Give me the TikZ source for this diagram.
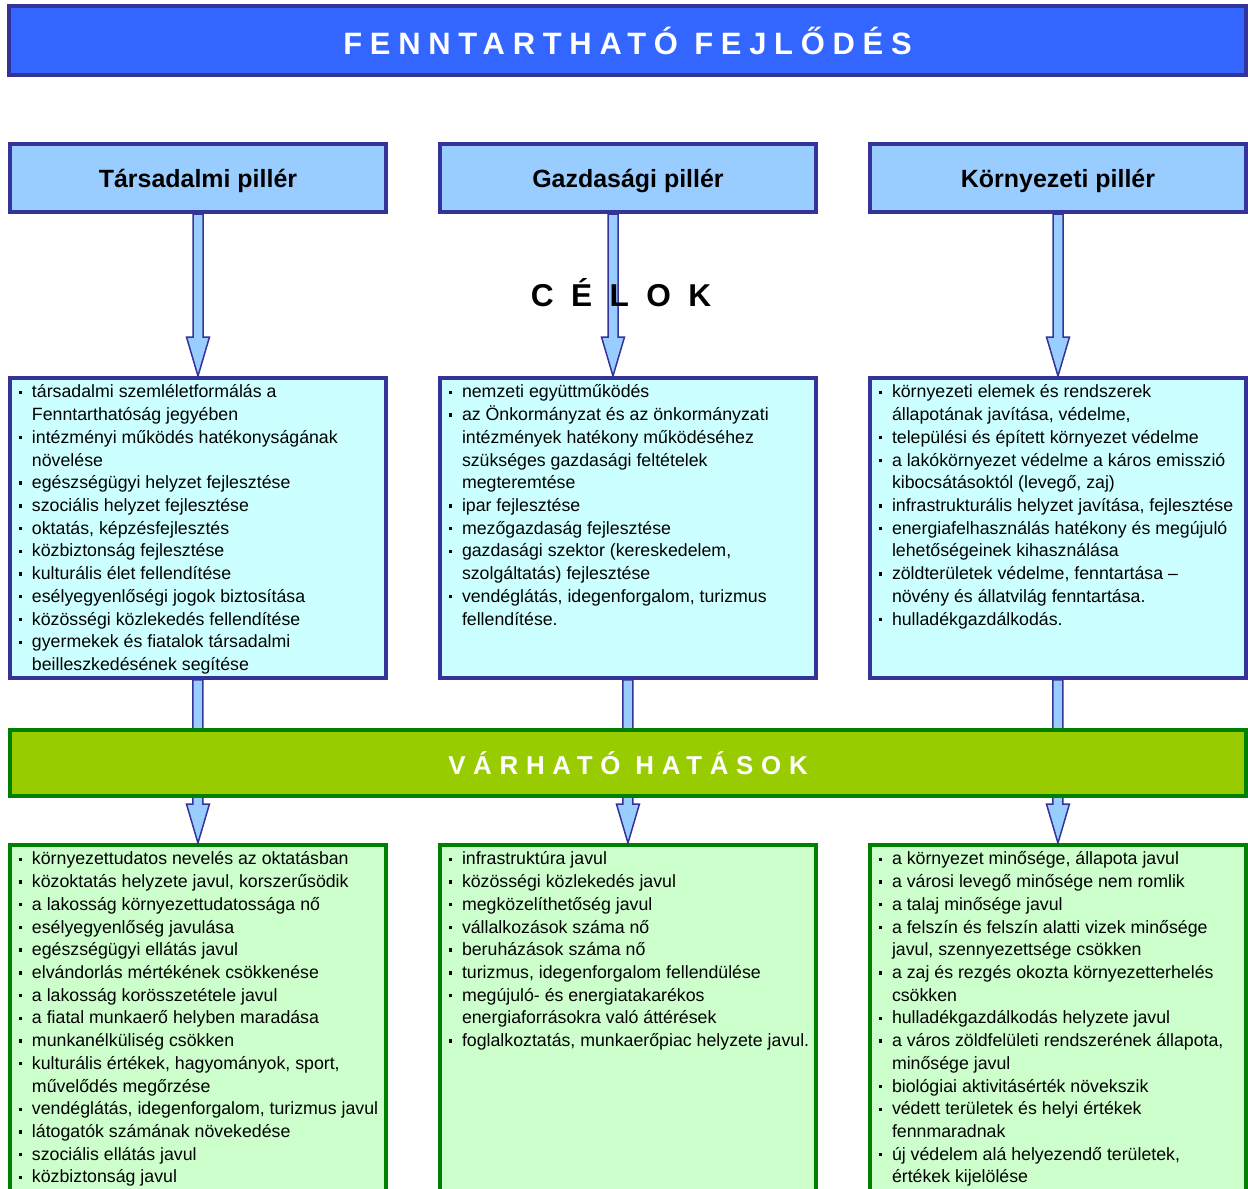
\documentclass[tikz,border=0pt]{standalone}
\usepackage{fontspec}
\setmainfont{Liberation Sans}
\usepackage{array}
\usetikzlibrary{calc}
\definecolor{tfblue}{RGB}{51,102,255}
\definecolor{tfnavy}{RGB}{51,51,153}
\definecolor{tfsky}{RGB}{153,204,255}
\definecolor{tfcyan}{RGB}{204,255,255}
\definecolor{tflime}{RGB}{153,204,0}
\definecolor{tfgreen}{RGB}{0,128,0}
\definecolor{tfmint}{RGB}{204,255,204}
\newcommand{\bul}{\rule[0.08cm]{0.066cm}{0.066cm}}

\begin{document}
\begin{tikzpicture}[x=0.02cm,y=-0.02cm,
  pillar/.style={draw=tfnavy, fill=tfsky, line width=0.08cm, minimum width=7.52cm, minimum height=1.36cm, inner sep=0pt, text depth=0cm, font=\bfseries\fontsize{14.2}{17}\selectfont},
  celbox/.style={draw=tfnavy, fill=tfcyan, line width=0.08cm, anchor=north west, inner xsep=0.18cm, inner ysep=0.08cm, font=\fontsize{10.1}{12.93}\selectfont},
  hatbox/.style={celbox, draw=tfgreen, fill=tfmint},
  blockarr/.style={draw=tfnavy, fill=tfsky, line width=0.03cm, line join=miter}]
  \useasboundingbox (0,0) rectangle (1248,1188);
  \clip (0,0) rectangle (1248,1188);

  %% Title
  \node[draw=tfnavy, fill=tfblue, line width=0.08cm, minimum width=24.74cm, minimum height=1.38cm, inner sep=0pt, text=white,
    font=\bfseries\fontsize{17.6}{20}\selectfont\addfontfeature{LetterSpace=25}] (title) at (627.5,40.5) {FENNTARTHATÓ FEJLŐDÉS};

  %% Pillars
  \node[pillar] (tp) at (198,178) {Társadalmi pillér};
  \node[pillar] (gp) at (628,178) {Gazdasági pillér};
  \node[pillar] (kp) at (1058,178) {Környezeti pillér};
  \coordinate (ga) at ($(gp.south)+(-15,0)$);

  %% Goals
  \node[celbox] (tl) at (8,376) {\parbox[t][5.84cm][t]{7.16cm}{\begin{tabular}{@{}p{0.26cm}@{}l@{}}
    \bul & társadalmi szemléletformálás a \\
         & Fenntarthatóság jegyében \\
    \bul & intézményi működés hatékonyságának \\
         & növelése \\
    \bul & egészségügyi helyzet fejlesztése \\
    \bul & szociális helyzet fejlesztése \\
    \bul & oktatás, képzésfejlesztés \\
    \bul & közbiztonság fejlesztése \\
    \bul & kulturális élet fellendítése \\
    \bul & esélyegyenlőségi jogok biztosítása \\
    \bul & közösségi közlekedés fellendítése \\
    \bul & gyermekek és fiatalok társadalmi \\
         & beilleszkedésének segítése \\
  \end{tabular}}};
  \node[celbox] (gl) at (438,376) {\parbox[t][5.84cm][t]{7.16cm}{\begin{tabular}{@{}p{0.26cm}@{}l@{}}
    \bul & nemzeti együttműködés \\
    \bul & az Önkormányzat és az önkormányzati \\
         & intézmények hatékony működéséhez \\
         & szükséges gazdasági feltételek \\
         & megteremtése \\
    \bul & ipar fejlesztése \\
    \bul & mezőgazdaság fejlesztése \\
    \bul & gazdasági szektor (kereskedelem, \\
         & szolgáltatás) fejlesztése \\
    \bul & vendéglátás, idegenforgalom, turizmus \\
         & fellendítése. \\
  \end{tabular}}};
  \node[celbox] (kl) at (868,376) {\parbox[t][5.84cm][t]{7.16cm}{\begin{tabular}{@{}p{0.26cm}@{}l@{}}
    \bul & környezeti elemek és rendszerek \\
         & állapotának javítása, védelme, \\
    \bul & települési és épített környezet védelme \\
    \bul & a lakókörnyezet védelme a káros emisszió \\
         & kibocsátásoktól (levegő, zaj) \\
    \bul & infrastrukturális helyzet javítása, fejlesztése \\
    \bul & energiafelhasználás hatékony és megújuló \\
         & lehetőségeinek kihasználása \\
    \bul & zöldterületek védelme, fenntartása – \\
         & növény és állatvilág fenntartása. \\
    \bul & hulladékgazdálkodás. \\
  \end{tabular}}};

  %% Expected effects
  \node[hatbox] (tb) at (8,843) {\parbox[t][7.6cm][t]{7.16cm}{\begin{tabular}{@{}p{0.26cm}@{}l@{}}
    \bul & környezettudatos nevelés az oktatásban \\
    \bul & közoktatás helyzete javul, korszerűsödik \\
    \bul & a lakosság környezettudatossága nő \\
    \bul & esélyegyenlőség javulása \\
    \bul & egészségügyi ellátás javul \\
    \bul & elvándorlás mértékének csökkenése \\
    \bul & a lakosság korösszetétele javul \\
    \bul & a fiatal munkaerő helyben maradása \\
    \bul & munkanélküliség csökken \\
    \bul & kulturális értékek, hagyományok, sport, \\
         & művelődés megőrzése \\
    \bul & vendéglátás, idegenforgalom, turizmus javul \\
    \bul & látogatók számának növekedése \\
    \bul & szociális ellátás javul \\
    \bul & közbiztonság javul \\
  \end{tabular}}};
  \node[hatbox] (gb) at (438,843) {\parbox[t][7.6cm][t]{7.16cm}{\begin{tabular}{@{}p{0.26cm}@{}l@{}}
    \bul & infrastruktúra javul \\
    \bul & közösségi közlekedés javul \\
    \bul & megközelíthetőség javul \\
    \bul & vállalkozások száma nő \\
    \bul & beruházások száma nő \\
    \bul & turizmus, idegenforgalom fellendülése \\
    \bul & megújuló- és energiatakarékos \\
         & energiaforrásokra való áttérések \\
    \bul & foglalkoztatás, munkaerőpiac helyzete javul. \\
  \end{tabular}}};
  \node[hatbox] (kb) at (868,843) {\parbox[t][7.6cm][t]{7.16cm}{\begin{tabular}{@{}p{0.26cm}@{}l@{}}
    \bul & a környezet minősége, állapota javul \\
    \bul & a városi levegő minősége nem romlik \\
    \bul & a talaj minősége javul \\
    \bul & a felszín és felszín alatti vizek minősége \\
         & javul, szennyezettsége csökken \\
    \bul & a zaj és rezgés okozta környezetterhelés \\
         & csökken \\
    \bul & hulladékgazdálkodás helyzete javul \\
    \bul & a város zöldfelületi rendszerének állapota, \\
         & minősége javul \\
    \bul & biológiai aktivitásérték növekszik \\
    \bul & védett területek és helyi értékek \\
         & fennmaradnak \\
    \bul & új védelem alá helyezendő területek, \\
         & értékek kijelölése \\
  \end{tabular}}};

  %% Block arrows
  \foreach \a/\b in {tp.south/tl.north, ga/gl.north, kp.south/kl.north, tl.south/tb.north, gl.south/gb.north, kl.south/kb.north}
    \draw[blockarr] ($(\a)+(-5,0)$) -- ($(\a|-\b)+(-5,-39)$) -- ($(\a|-\b)+(-11.5,-39)$) -- (\a|-\b)
      -- ($(\a|-\b)+(11.5,-39)$) -- ($(\a|-\b)+(5,-39)$) -- ($(\a)+(5,0)$) -- cycle;

  \node[font=\bfseries\fontsize{18}{20}\selectfont\addfontfeature{LetterSpace=55}] (celok) at (621,293) {CÉLOK};

  \node[draw=tfgreen, fill=tflime, line width=0.08cm, minimum width=24.72cm, minimum height=1.32cm, inner sep=0pt, text=white,
    font=\bfseries\fontsize{14.7}{18}\selectfont\addfontfeature{LetterSpace=30}] (hatas) at (628,763) {VÁRHATÓ HATÁSOK};
\end{tikzpicture}
\end{document}
